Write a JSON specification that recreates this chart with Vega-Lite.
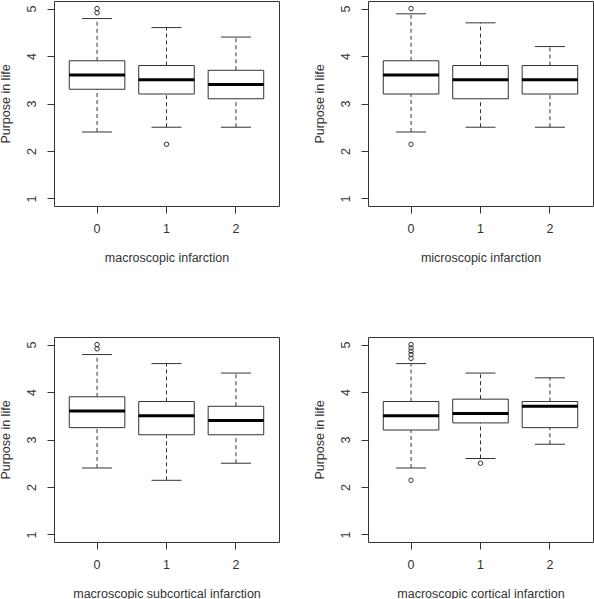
{
  "$schema": "https://vega.github.io/schema/vega-lite/v6.json",
  "autosize": {"type": "pad"},
  "padding": {"left": -2, "top": 0, "right": 0, "bottom": 0},
  "background": "white",
  "datasets": {
    "boxes": [
      {"panel": 1, "g": "0", "lower": 2.4, "q1": 3.3, "median": 3.6, "q3": 3.9, "upper": 4.79},
      {"panel": 1, "g": "1", "lower": 2.5, "q1": 3.2, "median": 3.5, "q3": 3.8, "upper": 4.6},
      {"panel": 1, "g": "2", "lower": 2.5, "q1": 3.1, "median": 3.4, "q3": 3.7, "upper": 4.4},
      {"panel": 2, "g": "0", "lower": 2.4, "q1": 3.2, "median": 3.6, "q3": 3.9, "upper": 4.89},
      {"panel": 2, "g": "1", "lower": 2.5, "q1": 3.1, "median": 3.5, "q3": 3.8, "upper": 4.7},
      {"panel": 2, "g": "2", "lower": 2.5, "q1": 3.2, "median": 3.5, "q3": 3.8, "upper": 4.2},
      {"panel": 3, "g": "0", "lower": 2.4, "q1": 3.25, "median": 3.6, "q3": 3.9, "upper": 4.79},
      {"panel": 3, "g": "1", "lower": 2.14, "q1": 3.1, "median": 3.5, "q3": 3.8, "upper": 4.6},
      {"panel": 3, "g": "2", "lower": 2.5, "q1": 3.1, "median": 3.4, "q3": 3.7, "upper": 4.4},
      {"panel": 4, "g": "0", "lower": 2.4, "q1": 3.2, "median": 3.5, "q3": 3.8, "upper": 4.6},
      {"panel": 4, "g": "1", "lower": 2.6, "q1": 3.35, "median": 3.55, "q3": 3.85, "upper": 4.4},
      {"panel": 4, "g": "2", "lower": 2.9, "q1": 3.25, "median": 3.7, "q3": 3.8, "upper": 4.3}
    ],
    "outliers": [
      {"panel": 1, "g": "0", "v": 5.0},
      {"panel": 1, "g": "0", "v": 4.91},
      {"panel": 1, "g": "1", "v": 2.14},
      {"panel": 2, "g": "0", "v": 5.0},
      {"panel": 2, "g": "0", "v": 2.14},
      {"panel": 3, "g": "0", "v": 5.0},
      {"panel": 3, "g": "0", "v": 4.91},
      {"panel": 4, "g": "0", "v": 5.0},
      {"panel": 4, "g": "0", "v": 4.93},
      {"panel": 4, "g": "0", "v": 4.86},
      {"panel": 4, "g": "0", "v": 4.79},
      {"panel": 4, "g": "0", "v": 4.71},
      {"panel": 4, "g": "0", "v": 2.14},
      {"panel": 4, "g": "1", "v": 2.5}
    ]
  },
  "columns": 2,
  "spacing": {"column": 89, "row": 131},
  "bounds": "flush",
  "concat": [
    {
      "width": 225, "height": 205,
      "encoding": {"x": {"field": "g", "type": "nominal", "scale": {"paddingInner": 0.2, "paddingOuter": 0.22}, "axis": {"title": "macroscopic infarction"}}},
      "layer": [
        {"data": {"name": "boxes"}, "transform": [{"filter": "datum.panel == 1"}], "mark": {"type": "rule", "strokeDash": [4, 3], "color": "#333"},
         "encoding": {"y": {"field": "lower", "type": "quantitative", "title": "Purpose in life", "scale": {"domain": [0.84, 5.16], "nice": false, "zero": false}}, "y2": {"field": "q1"}}},
        {"data": {"name": "boxes"}, "transform": [{"filter": "datum.panel == 1"}], "mark": {"type": "rule", "strokeDash": [4, 3], "color": "#333"},
         "encoding": {"y": {"field": "q3", "type": "quantitative", "title": "Purpose in life", "scale": {"domain": [0.84, 5.16], "nice": false, "zero": false}}, "y2": {"field": "upper"}}},
        {"data": {"name": "boxes"}, "transform": [{"filter": "datum.panel == 1"}], "mark": {"type": "bar", "fill": "white", "stroke": "#333", "strokeWidth": 1},
         "encoding": {"y": {"field": "q1", "type": "quantitative", "title": "Purpose in life", "scale": {"domain": [0.84, 5.16], "nice": false, "zero": false}}, "y2": {"field": "q3"}}},
        {"data": {"name": "boxes"}, "transform": [{"filter": "datum.panel == 1"}], "mark": {"type": "tick", "color": "black", "size": 56, "thickness": 3, "opacity": 1},
         "encoding": {"y": {"field": "median", "type": "quantitative", "title": "Purpose in life", "scale": {"domain": [0.84, 5.16], "nice": false, "zero": false}}}},
        {"data": {"name": "boxes"}, "transform": [{"filter": "datum.panel == 1"}], "mark": {"type": "tick", "color": "#333", "size": 30, "thickness": 1, "opacity": 1},
         "encoding": {"y": {"field": "lower", "type": "quantitative", "title": "Purpose in life", "scale": {"domain": [0.84, 5.16], "nice": false, "zero": false}}}},
        {"data": {"name": "boxes"}, "transform": [{"filter": "datum.panel == 1"}], "mark": {"type": "tick", "color": "#333", "size": 30, "thickness": 1, "opacity": 1},
         "encoding": {"y": {"field": "upper", "type": "quantitative", "title": "Purpose in life", "scale": {"domain": [0.84, 5.16], "nice": false, "zero": false}}}},
        {"data": {"name": "outliers"}, "transform": [{"filter": "datum.panel == 1"}], "mark": {"type": "point", "shape": "circle", "filled": false, "size": 20, "stroke": "#333", "strokeWidth": 1, "opacity": 1},
         "encoding": {"y": {"field": "v", "type": "quantitative", "title": "Purpose in life", "scale": {"domain": [0.84, 5.16], "nice": false, "zero": false}}}}
      ]
    },
    {
      "width": 225, "height": 205,
      "encoding": {"x": {"field": "g", "type": "nominal", "scale": {"paddingInner": 0.2, "paddingOuter": 0.22}, "axis": {"title": "microscopic infarction"}}},
      "layer": [
        {"data": {"name": "boxes"}, "transform": [{"filter": "datum.panel == 2"}], "mark": {"type": "rule", "strokeDash": [4, 3], "color": "#333"},
         "encoding": {"y": {"field": "lower", "type": "quantitative", "title": "Purpose in life", "scale": {"domain": [0.84, 5.16], "nice": false, "zero": false}}, "y2": {"field": "q1"}}},
        {"data": {"name": "boxes"}, "transform": [{"filter": "datum.panel == 2"}], "mark": {"type": "rule", "strokeDash": [4, 3], "color": "#333"},
         "encoding": {"y": {"field": "q3", "type": "quantitative", "title": "Purpose in life", "scale": {"domain": [0.84, 5.16], "nice": false, "zero": false}}, "y2": {"field": "upper"}}},
        {"data": {"name": "boxes"}, "transform": [{"filter": "datum.panel == 2"}], "mark": {"type": "bar", "fill": "white", "stroke": "#333", "strokeWidth": 1},
         "encoding": {"y": {"field": "q1", "type": "quantitative", "title": "Purpose in life", "scale": {"domain": [0.84, 5.16], "nice": false, "zero": false}}, "y2": {"field": "q3"}}},
        {"data": {"name": "boxes"}, "transform": [{"filter": "datum.panel == 2"}], "mark": {"type": "tick", "color": "black", "size": 56, "thickness": 3, "opacity": 1},
         "encoding": {"y": {"field": "median", "type": "quantitative", "title": "Purpose in life", "scale": {"domain": [0.84, 5.16], "nice": false, "zero": false}}}},
        {"data": {"name": "boxes"}, "transform": [{"filter": "datum.panel == 2"}], "mark": {"type": "tick", "color": "#333", "size": 30, "thickness": 1, "opacity": 1},
         "encoding": {"y": {"field": "lower", "type": "quantitative", "title": "Purpose in life", "scale": {"domain": [0.84, 5.16], "nice": false, "zero": false}}}},
        {"data": {"name": "boxes"}, "transform": [{"filter": "datum.panel == 2"}], "mark": {"type": "tick", "color": "#333", "size": 30, "thickness": 1, "opacity": 1},
         "encoding": {"y": {"field": "upper", "type": "quantitative", "title": "Purpose in life", "scale": {"domain": [0.84, 5.16], "nice": false, "zero": false}}}},
        {"data": {"name": "outliers"}, "transform": [{"filter": "datum.panel == 2"}], "mark": {"type": "point", "shape": "circle", "filled": false, "size": 20, "stroke": "#333", "strokeWidth": 1, "opacity": 1},
         "encoding": {"y": {"field": "v", "type": "quantitative", "title": "Purpose in life", "scale": {"domain": [0.84, 5.16], "nice": false, "zero": false}}}}
      ]
    },
    {
      "width": 225, "height": 205,
      "encoding": {"x": {"field": "g", "type": "nominal", "scale": {"paddingInner": 0.2, "paddingOuter": 0.22}, "axis": {"title": "macroscopic subcortical infarction"}}},
      "layer": [
        {"data": {"name": "boxes"}, "transform": [{"filter": "datum.panel == 3"}], "mark": {"type": "rule", "strokeDash": [4, 3], "color": "#333"},
         "encoding": {"y": {"field": "lower", "type": "quantitative", "title": "Purpose in life", "scale": {"domain": [0.84, 5.16], "nice": false, "zero": false}}, "y2": {"field": "q1"}}},
        {"data": {"name": "boxes"}, "transform": [{"filter": "datum.panel == 3"}], "mark": {"type": "rule", "strokeDash": [4, 3], "color": "#333"},
         "encoding": {"y": {"field": "q3", "type": "quantitative", "title": "Purpose in life", "scale": {"domain": [0.84, 5.16], "nice": false, "zero": false}}, "y2": {"field": "upper"}}},
        {"data": {"name": "boxes"}, "transform": [{"filter": "datum.panel == 3"}], "mark": {"type": "bar", "fill": "white", "stroke": "#333", "strokeWidth": 1},
         "encoding": {"y": {"field": "q1", "type": "quantitative", "title": "Purpose in life", "scale": {"domain": [0.84, 5.16], "nice": false, "zero": false}}, "y2": {"field": "q3"}}},
        {"data": {"name": "boxes"}, "transform": [{"filter": "datum.panel == 3"}], "mark": {"type": "tick", "color": "black", "size": 56, "thickness": 3, "opacity": 1},
         "encoding": {"y": {"field": "median", "type": "quantitative", "title": "Purpose in life", "scale": {"domain": [0.84, 5.16], "nice": false, "zero": false}}}},
        {"data": {"name": "boxes"}, "transform": [{"filter": "datum.panel == 3"}], "mark": {"type": "tick", "color": "#333", "size": 30, "thickness": 1, "opacity": 1},
         "encoding": {"y": {"field": "lower", "type": "quantitative", "title": "Purpose in life", "scale": {"domain": [0.84, 5.16], "nice": false, "zero": false}}}},
        {"data": {"name": "boxes"}, "transform": [{"filter": "datum.panel == 3"}], "mark": {"type": "tick", "color": "#333", "size": 30, "thickness": 1, "opacity": 1},
         "encoding": {"y": {"field": "upper", "type": "quantitative", "title": "Purpose in life", "scale": {"domain": [0.84, 5.16], "nice": false, "zero": false}}}},
        {"data": {"name": "outliers"}, "transform": [{"filter": "datum.panel == 3"}], "mark": {"type": "point", "shape": "circle", "filled": false, "size": 20, "stroke": "#333", "strokeWidth": 1, "opacity": 1},
         "encoding": {"y": {"field": "v", "type": "quantitative", "title": "Purpose in life", "scale": {"domain": [0.84, 5.16], "nice": false, "zero": false}}}}
      ]
    },
    {
      "width": 225, "height": 205,
      "encoding": {"x": {"field": "g", "type": "nominal", "scale": {"paddingInner": 0.2, "paddingOuter": 0.22}, "axis": {"title": "macroscopic cortical infarction"}}},
      "layer": [
        {"data": {"name": "boxes"}, "transform": [{"filter": "datum.panel == 4"}], "mark": {"type": "rule", "strokeDash": [4, 3], "color": "#333"},
         "encoding": {"y": {"field": "lower", "type": "quantitative", "title": "Purpose in life", "scale": {"domain": [0.84, 5.16], "nice": false, "zero": false}}, "y2": {"field": "q1"}}},
        {"data": {"name": "boxes"}, "transform": [{"filter": "datum.panel == 4"}], "mark": {"type": "rule", "strokeDash": [4, 3], "color": "#333"},
         "encoding": {"y": {"field": "q3", "type": "quantitative", "title": "Purpose in life", "scale": {"domain": [0.84, 5.16], "nice": false, "zero": false}}, "y2": {"field": "upper"}}},
        {"data": {"name": "boxes"}, "transform": [{"filter": "datum.panel == 4"}], "mark": {"type": "bar", "fill": "white", "stroke": "#333", "strokeWidth": 1},
         "encoding": {"y": {"field": "q1", "type": "quantitative", "title": "Purpose in life", "scale": {"domain": [0.84, 5.16], "nice": false, "zero": false}}, "y2": {"field": "q3"}}},
        {"data": {"name": "boxes"}, "transform": [{"filter": "datum.panel == 4"}], "mark": {"type": "tick", "color": "black", "size": 56, "thickness": 3, "opacity": 1},
         "encoding": {"y": {"field": "median", "type": "quantitative", "title": "Purpose in life", "scale": {"domain": [0.84, 5.16], "nice": false, "zero": false}}}},
        {"data": {"name": "boxes"}, "transform": [{"filter": "datum.panel == 4"}], "mark": {"type": "tick", "color": "#333", "size": 30, "thickness": 1, "opacity": 1},
         "encoding": {"y": {"field": "lower", "type": "quantitative", "title": "Purpose in life", "scale": {"domain": [0.84, 5.16], "nice": false, "zero": false}}}},
        {"data": {"name": "boxes"}, "transform": [{"filter": "datum.panel == 4"}], "mark": {"type": "tick", "color": "#333", "size": 30, "thickness": 1, "opacity": 1},
         "encoding": {"y": {"field": "upper", "type": "quantitative", "title": "Purpose in life", "scale": {"domain": [0.84, 5.16], "nice": false, "zero": false}}}},
        {"data": {"name": "outliers"}, "transform": [{"filter": "datum.panel == 4"}], "mark": {"type": "point", "shape": "circle", "filled": false, "size": 20, "stroke": "#333", "strokeWidth": 1, "opacity": 1},
         "encoding": {"y": {"field": "v", "type": "quantitative", "title": "Purpose in life", "scale": {"domain": [0.84, 5.16], "nice": false, "zero": false}}}}
      ]
    }
  ],
  "config": {
    "view": {"stroke": "#333", "strokeWidth": 1},
    "font": "Liberation Sans",
    "axis": {
      "grid": false, "domain": false, "tickColor": "#333", "tickSize": 7, "tickWidth": 1,
      "labelFont": "Liberation Sans", "labelFontSize": 12.5, "labelColor": "#333",
      "titleFont": "Liberation Sans", "titleFontSize": 12.5, "titleFontWeight": "normal", "titleColor": "#333",
      "labelFlush": false, "labelOverlap": false
    },
    "axisY": {
      "values": [1, 2, 3, 4, 5], "labelAngle": -90, "labelAlign": "center", "labelBaseline": "bottom", "labelPadding": 9,
      "titleAngle": -90, "titleX": -45, "titleY": 102.5, "titleAlign": "center", "titleBaseline": "alphabetic"
    },
    "axisX": {
      "labelAngle": 0, "labelPadding": 9.5, "labelBaseline": "top",
      "titleX": 112.5, "titleY": 55, "titleAlign": "center", "titleBaseline": "alphabetic"
    }
  }
}
